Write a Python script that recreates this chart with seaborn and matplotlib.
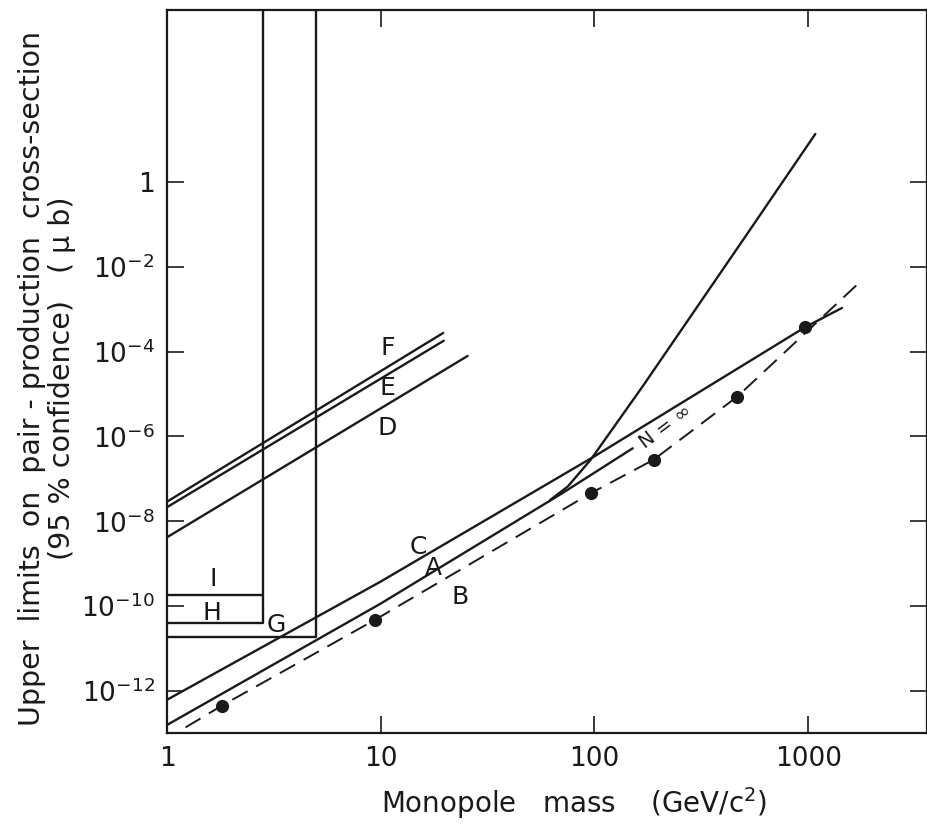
import matplotlib
matplotlib.use("Agg")
import matplotlib.pyplot as plt
import seaborn as sns

# ---------------- data ----------------
# monopole mass (GeV/c^2) and upper limit on cross-section (microbarn)
sigma_top = 1.1e4          # vertical limits run to the top of the frame

mass_G = [1.0, 5.0, 5.0]
sigma_G = [1.85e-11, 1.85e-11, sigma_top]
mass_H = [1.0, 2.8, 2.8]
sigma_H = [3.97e-11, 3.97e-11, sigma_top]
mass_I = [1.0, 2.8]
sigma_I = [1.84e-10, 1.84e-10]

mass_F = [1.0, 19.6]
sigma_F = [2.9e-8, 2.75e-4]
mass_E = [1.0, 19.7]
sigma_E = [2.15e-8, 1.8e-4]
mass_D = [1.0, 25.5]
sigma_D = [4.2e-9, 7.9e-5]

mass_C = [1.0, 10, 100, 970, 1440]
sigma_C = [6.2e-13, 3.8e-10, 3.4e-7, 3.8e-4, 1.07e-3]

mass_A = [1.0, 10, 70.6, 151]
sigma_A = [1.58e-13, 1.15e-10, 4.57e-8, 5.25e-7]

mass_steep = [62, 75, 96, 168, 497, 1080]
sigma_steep = [3.16e-8, 6.6e-8, 2.82e-7, 1.51e-5, 4.37e-2, 13.5]

mass_B = [1.22, 1.8, 9.35, 96, 189, 466, 1790]
sigma_B = [1.38e-13, 4.47e-13, 4.68e-11, 4.57e-8, 2.82e-7, 8.7e-6, 4.9e-3]

dot_mass = [1.8, 9.35, 96, 189, 466, 970]
dot_sigma = [4.47e-13, 4.68e-11, 4.57e-8, 2.82e-7, 8.7e-6, 3.8e-4]

x_ticks = [1, 10, 100, 1000]
x_tick_labels = ["1", "10", "100", "1000"]
y_ticks = [1e-12, 1e-10, 1e-8, 1e-6, 1e-4, 1e-2, 1]
y_tick_labels = ["$10^{-12}$", "$10^{-10}$", "$10^{-8}$", "$10^{-6}$",
                 "$10^{-4}$", "$10^{-2}$", "1"]

curve_labels = ["F", "E", "D", "C", "A", "B", "I", "H", "G"]
label_mass = [10.8, 10.7, 10.7, 15.0, 17.6, 23.6, 1.64, 1.62, 3.24]
label_sigma = [1.22e-4, 1.39e-5, 1.56e-6, 2.48e-9, 7.9e-10, 1.64e-10,
               4.37e-10, 6.9e-11, 3.6e-11]

# ---------------- style ----------------
sns.set_theme(style="ticks")
plt.rcParams["font.family"] = ["DejaVu Sans"]
plt.rcParams["mathtext.fontset"] = "dejavusans"
ink = "#1a1a1a"

fig = plt.figure(figsize=(9.28, 8.25), dpi=100)
ax = fig.add_axes([0.1800, 0.1115, 0.8190, 0.8764])
ax.set(xscale="log", yscale="log")

lw = 1.7
solid_sets = [(mass_G, sigma_G), (mass_H, sigma_H), (mass_I, sigma_I),
              (mass_F, sigma_F), (mass_E, sigma_E), (mass_D, sigma_D),
              (mass_C, sigma_C), (mass_A, sigma_A), (mass_steep, sigma_steep)]
for xs, ys in solid_sets:
    sns.lineplot(x=xs, y=ys, ax=ax, color=ink, lw=lw, sort=False,
                 estimator=None, legend=False)

sns.lineplot(x=mass_B, y=sigma_B, ax=ax, color=ink, lw=1.4, sort=False,
             estimator=None, legend=False)
ax.lines[-1].set_dashes((9, 5))

sns.scatterplot(x=dot_mass, y=dot_sigma, ax=ax, color=ink, s=90,
                edgecolor=ink, linewidth=0, zorder=5, legend=False)

for lab, xm, ys in zip(curve_labels, label_mass, label_sigma):
    ax.text(xm, ys, lab, fontsize=18, ha="center", va="center", color=ink)
ax.text(215, 1.7e-6, "N = ∞", fontsize=14, rotation=37, ha="center",
        va="center", color=ink)

ax.set_xlim(1, 3600)
ax.set_ylim(1.02e-13, 1.13e4)
ax.set_xticks(x_ticks)
ax.set_xticklabels(x_tick_labels)
ax.set_yticks(y_ticks)
ax.set_yticklabels(y_tick_labels)
ax.minorticks_off()
ax.tick_params(axis="both", which="major", direction="in", length=12,
               width=1.2, color=ink, labelsize=19, labelcolor=ink,
               top=True, right=True, labeltop=False, labelright=False)
ax.tick_params(axis="x", pad=9)
ax.tick_params(axis="y", pad=9)
for sp in ax.spines.values():
    sp.set_visible(True)
    sp.set_linewidth(1.6)
    sp.set_color(ink)

ax.set_xlabel("Monopole   mass    (GeV/c$^2$)", fontsize=20, color=ink)
ax.xaxis.set_label_coords(0.5355, -0.072)
ax.set_ylabel("Upper  limits  on  pair - production  cross-section\n"
              "(95 % confidence)   ( μ b)", fontsize=20.5, color=ink,
              linespacing=1.1)
ax.yaxis.set_label_coords(-0.12, 0.49)

fig.savefig("out.png", dpi=100)
